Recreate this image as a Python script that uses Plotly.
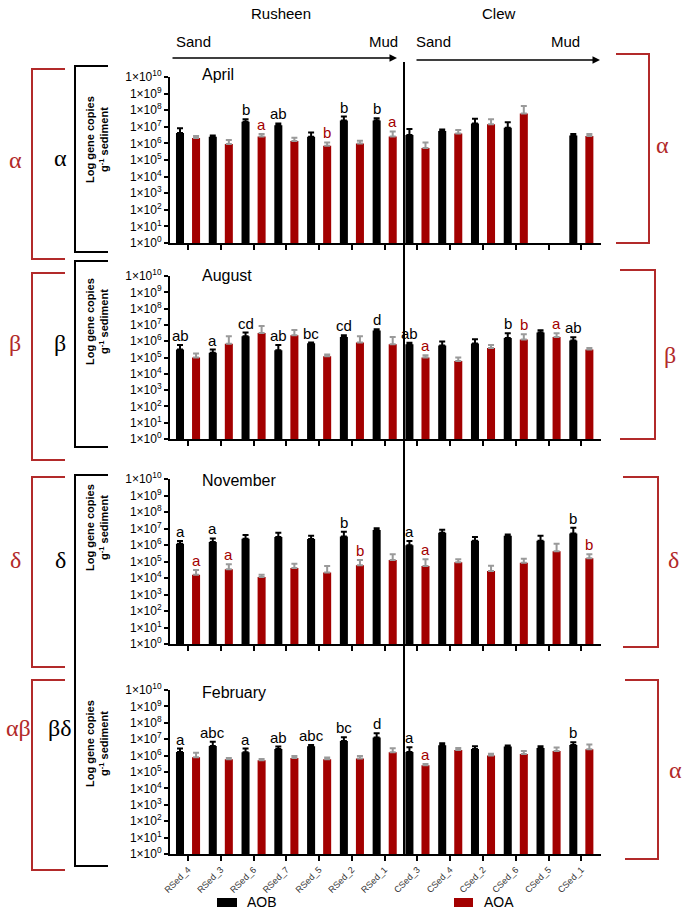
import plotly.graph_objects as go

W, H = 685, 911
sites = ["RSed_4", "RSed_3", "RSed_6", "RSed_7", "RSed_5", "RSed_2", "RSed_1",
         "CSed_3", "CSed_4", "CSed_2", "CSed_6", "CSed_5", "CSed_1"]
months = ["April", "August", "November", "February"]

# log10 gene copies g-1 sediment (bar tops) and upper error-bar ends
aob_apr = [6.62, 6.40, 7.30, 7.10, 6.40, 7.38, 7.38, 6.50, 6.74, 7.20, 6.94, None, 6.48]
aoa_apr = [6.32, 5.96, 6.42, 6.14, 5.86, 6.00, 6.42, 5.72, 6.60, 7.16, 7.80, None, 6.44]
aob_apr_hi = [6.92, 6.48, 7.46, 7.20, 6.66, 7.62, 7.52, 6.86, 6.84, 7.48, 7.28, None, 6.56]
aoa_apr_hi = [6.44, 6.20, 6.56, 6.34, 6.06, 6.16, 6.72, 6.06, 6.80, 7.46, 8.26, None, 6.56]
aob_apr_let = ["", "", "b", "ab", "", "b", "b", "", "", "", "", "", ""]
aoa_apr_let = ["", "", "a", "", "b", "", "a", "", "", "", "", "", ""]

aob_aug = [5.49, 5.29, 6.31, 5.45, 5.88, 6.26, 6.65, 5.82, 5.74, 5.86, 6.20, 6.53, 6.04]
aoa_aug = [5.00, 5.84, 6.51, 6.37, 5.08, 5.92, 5.82, 5.00, 4.78, 5.59, 6.10, 6.26, 5.49]
aob_aug_hi = [5.76, 5.49, 6.53, 5.76, 5.92, 6.37, 6.73, 5.90, 5.98, 6.12, 6.49, 6.67, 6.24]
aoa_aug_hi = [5.25, 6.31, 6.94, 6.69, 5.18, 6.31, 6.26, 5.14, 5.00, 5.76, 6.43, 6.49, 5.59]
aob_aug_let = ["ab", "a", "cd", "ab", "bc", "cd", "d", "ab", "", "", "b", "", "ab"]
aoa_aug_let = ["", "", "", "", "", "", "", "a", "", "", "b", "a", ""]

aob_nov = [6.08, 6.18, 6.38, 6.48, 6.36, 6.52, 6.91, 5.98, 6.75, 6.26, 6.56, 6.26, 6.69]
aoa_nov = [4.19, 4.53, 4.06, 4.61, 4.33, 4.77, 5.09, 4.73, 4.95, 4.43, 4.93, 5.62, 5.19]
aob_nov_hi = [6.24, 6.40, 6.60, 6.75, 6.56, 6.81, 7.01, 6.24, 6.93, 6.48, 6.63, 6.56, 7.05]
aoa_nov_hi = [4.49, 4.83, 4.19, 4.87, 4.73, 5.09, 5.44, 5.13, 5.13, 4.75, 5.17, 6.08, 5.44]
aob_nov_let = ["a", "a", "", "", "", "b", "", "a", "", "", "", "", "b"]
aoa_nov_let = ["a", "a", "", "", "", "b", "", "a", "", "", "", "", "b"]

aob_feb = [6.22, 6.59, 6.20, 6.41, 6.57, 6.89, 7.10, 6.22, 6.63, 6.41, 6.55, 6.47, 6.65]
aoa_feb = [5.90, 5.78, 5.72, 5.86, 5.78, 5.82, 6.20, 5.41, 6.34, 6.00, 6.10, 6.28, 6.39]
aob_feb_hi = [6.43, 6.85, 6.43, 6.55, 6.65, 7.12, 7.36, 6.51, 6.75, 6.57, 6.61, 6.57, 6.81]
aoa_feb_hi = [6.18, 5.86, 5.80, 5.98, 5.88, 5.98, 6.45, 5.49, 6.47, 6.12, 6.28, 6.49, 6.67]
aob_feb_let = ["a", "abc", "a", "ab", "abc", "bc", "d", "a", "", "", "", "", "b"]
aoa_feb_let = ["", "", "", "", "", "", "", "a", "", "", "", "", ""]

panels = [
    (aob_apr, aoa_apr, aob_apr_hi, aoa_apr_hi, aob_apr_let, aoa_apr_let),
    (aob_aug, aoa_aug, aob_aug_hi, aoa_aug_hi, aob_aug_let, aoa_aug_let),
    (aob_nov, aoa_nov, aob_nov_hi, aoa_nov_hi, aob_nov_let, aoa_nov_let),
    (aob_feb, aoa_feb, aob_feb_hi, aoa_feb_hi, aob_feb_let, aoa_feb_let),
]

exp_vals = list(range(0, 11))
tick_text = ["1×10<sup>%d</sup>" % k for k in exp_vals]

BLACK = "#000000"
RED = "#a30000"
BRK = "#b22a2a"
GREY = "#9a9a9a"
FONT = "Liberation Sans, Arial, sans-serif"
SERIF = "Liberation Serif, Times New Roman, serif"


def px(x):
    return x / W


def py(y):
    return 1 - y / H


# panel pixel extents (top = 1e10, bottom = 1e0)
panel_px = [(77, 243), (276, 439), (479, 644), (690, 854)]
plot_x0, plot_x1 = 170, 601

fig = go.Figure()
annotations = []
shapes = []

for i, (ab, aa, abh, aah, abl, aal) in enumerate(panels):
    n = i + 1
    xa = "x" if n == 1 else "x%d" % n
    ya = "y" if n == 1 else "y%d" % n
    ab_v = [None if v is None else 10 ** v for v in ab]
    aa_v = [None if v is None else 10 ** v for v in aa]
    ab_e = [0 if v is None else 10 ** h - 10 ** v for v, h in zip(ab, abh)]
    aa_e = [0 if v is None else 10 ** h - 10 ** v for v, h in zip(aa, aah)]
    fig.add_trace(go.Bar(
        x=sites, y=ab_v, name="AOB", marker=dict(color=BLACK, line=dict(width=0)),
        error_y=dict(type="data", symmetric=False, array=ab_e, arrayminus=[0] * 13,
                     color=BLACK, thickness=2, width=3),
        xaxis=xa, yaxis=ya, showlegend=False, offsetgroup="aob"))
    fig.add_trace(go.Bar(
        x=sites, y=aa_v, name="AOA", marker=dict(color=RED, line=dict(width=0)),
        error_y=dict(type="data", symmetric=False, array=aa_e, arrayminus=[0] * 13,
                     color=GREY, thickness=2, width=3),
        xaxis=xa, yaxis=ya, showlegend=False, offsetgroup="aoa"))

    top, bot = panel_px[i]
    xkey = "xaxis" if n == 1 else "xaxis%d" % n
    ykey = "yaxis" if n == 1 else "yaxis%d" % n
    fig.update_layout(**{
        xkey: dict(domain=[px(plot_x0), px(plot_x1)], anchor=ya, type="category",
                   categoryorder="array", categoryarray=sites, range=[-0.55, 12.6],
                   showline=True, linecolor="black", linewidth=2, ticks="outside",
                   ticklen=5, tickwidth=1.5, tickcolor="black", showgrid=False,
                   zeroline=False, showticklabels=(n == 4), tickangle=-45,
                   automargin=False,
                   tickfont=dict(family=FONT, size=9, color="#333333")),
        ykey: dict(domain=[py(bot), py(top)], anchor=xa, type="log", range=[0, 10],
                   tickvals=[10 ** k for k in exp_vals], ticktext=tick_text,
                   showline=True, linecolor="black", linewidth=2, ticks="outside",
                   ticklen=4, tickwidth=1.5, tickcolor="black", showgrid=False,
                   zeroline=False, automargin=False,
                   tickfont=dict(family=FONT, size=12, color="black")),
    })

    # significance letters
    for j, s in enumerate(sites):
        if abl[j]:
            annotations.append(dict(x=s, y=abh[j], xref=xa, yref=ya, text=abl[j],
                                    showarrow=False, xshift=-8, yanchor="bottom",
                                    yshift=-1, font=dict(family=FONT, size=15, color=BLACK)))
        if aal[j]:
            annotations.append(dict(x=s, y=aah[j], xref=xa, yref=ya, text=aal[j],
                                    showarrow=False, xshift=8, yanchor="bottom",
                                    yshift=-1, font=dict(family=FONT, size=15, color=RED)))

# month titles
month_y = [75, 275, 481, 692]
for m, yy in zip(months, month_y):
    annotations.append(dict(x=px(200), y=py(yy), xref="paper", yref="paper", text=m,
                            showarrow=False, xanchor="left", yanchor="middle",
                            font=dict(family=FONT, size=16, color="black")))

# y-axis titles
title_y = [140, 322, 528, 744]
for yy in title_y:
    annotations.append(dict(x=px(97), y=py(yy), xref="paper", yref="paper",
                            text="<b>Log gene copies<br>g<sup>-1</sup> sediment</b>",
                            showarrow=False, textangle=-90, xanchor="center", yanchor="middle",
                            font=dict(family=FONT, size=11, color="black")))

# header
hdr = [("Rusheen", 281, 13), ("Clew", 499, 13), ("Sand", 193, 42), ("Mud", 383, 42),
       ("Sand", 433, 42), ("Mud", 565, 42)]
for t, xx, yy in hdr:
    annotations.append(dict(x=px(xx), y=py(yy), xref="paper", yref="paper", text=t,
                            showarrow=False, xanchor="center", yanchor="middle",
                            font=dict(family=FONT, size=15, color="black")))
for x0, x1, yy in [(171, 397, 58), (415, 600, 60)]:
    annotations.append(dict(x=px(x1), y=py(yy), xref="paper", yref="paper",
                            ax=-(x1 - x0), ay=0, axref="pixel", ayref="pixel", text="",
                            showarrow=True, arrowhead=2, arrowsize=1, arrowwidth=1.5,
                            arrowcolor="black"))

# separator line
shapes.append(dict(type="line", xref="paper", yref="paper", x0=px(404), x1=px(404),
                   y0=py(62), y1=py(856), line=dict(color="black", width=2)))


def bracket(xv, xarm, y0, y1, color):
    shapes.append(dict(type="path", xref="paper", yref="paper",
                       path="M %f %f L %f %f L %f %f L %f %f" % (
                           px(xarm), py(y0), px(xv), py(y0), px(xv), py(y1), px(xarm), py(y1)),
                       line=dict(color=color, width=2)))


# left brackets
bracket(32, 65, 69, 259, BRK)
bracket(32, 65, 273, 460, BRK)
bracket(32, 65, 477, 667, BRK)
bracket(32, 65, 680, 870, BRK)
bracket(75, 108, 66, 252, "black")
bracket(75, 108, 261, 447, "black")
bracket(75, 108, 475, 866, "black")
# right brackets
bracket(649, 616, 54, 243, BRK)
bracket(655, 620, 270, 439, BRK)
bracket(658, 623, 477, 647, BRK)
bracket(658, 625, 680, 859, BRK)

greek = [("α", 15, 160, BRK), ("α", 60, 158, "black"), ("β", 15, 343, BRK), ("β", 60, 343, "black"),
         ("δ", 15, 560, BRK), ("δ", 60, 560, "black"), ("αβ", 18, 728, BRK), ("βδ", 60, 728, "black"),
         ("α", 662, 145, BRK), ("β", 670, 355, BRK), ("δ", 673, 560, BRK), ("α", 675, 770, BRK)]
for t, xx, yy, c in greek:
    annotations.append(dict(x=px(xx), y=py(yy), xref="paper", yref="paper", text=t,
                            showarrow=False, xanchor="center", yanchor="middle",
                            font=dict(family=SERIF, size=24, color=c)))

# legend
shapes.append(dict(type="rect", xref="paper", yref="paper", x0=px(217), x1=px(237),
                   y0=py(907), y1=py(898), fillcolor=BLACK, line=dict(width=0)))
shapes.append(dict(type="rect", xref="paper", yref="paper", x0=px(454), x1=px(473),
                   y0=py(907), y1=py(898), fillcolor=RED, line=dict(width=0)))
annotations.append(dict(x=px(245), y=py(902), xref="paper", yref="paper", text="AOB",
                        showarrow=False, xanchor="left", yanchor="middle",
                        font=dict(family=FONT, size=14, color="black")))
annotations.append(dict(x=px(482), y=py(902), xref="paper", yref="paper", text="AOA",
                        showarrow=False, xanchor="left", yanchor="middle",
                        font=dict(family=FONT, size=14, color="black")))

fig.update_layout(width=W, height=H, margin=dict(l=0, r=0, t=0, b=0, pad=0, autoexpand=False),
                  paper_bgcolor="white", plot_bgcolor="white", barmode="group",
                  bargap=0.02, bargroupgap=0.5, showlegend=False,
                  annotations=annotations, shapes=shapes,
                  font=dict(family=FONT, color="black"))

fig.write_html("out.html", config={"displayModeBar": False},
               post_script="document.body.style.margin='0';document.body.style.overflow='hidden';")
